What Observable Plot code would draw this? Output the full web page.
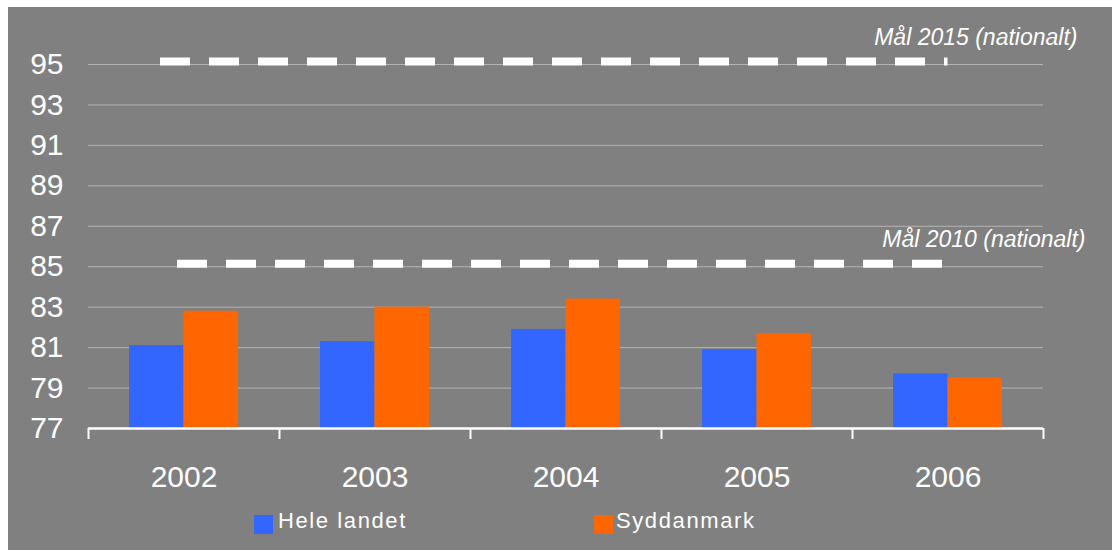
<!DOCTYPE html>
<html>
<head>
<meta charset="utf-8">
<script src="https://cdn.jsdelivr.net/npm/d3@7"></script>
<script src="https://cdn.jsdelivr.net/npm/@observablehq/plot@0.6"></script>
<style>
  html, body { margin: 0; padding: 0; background: #ffffff; }
  #panel { position: absolute; left: 8px; top: 7px; width: 1104px; height: 543px; background: #808080; overflow: hidden; font-family: "Liberation Sans", Arial, sans-serif; }
  #chart svg { display: block; }
  .lg-sw { position: absolute; width: 19px; height: 19px; top: 508px; }
  .lg-tx { position: absolute; top: 503px; font-size: 22px; line-height: 22px; color: #ffffff; letter-spacing: 1.6px; white-space: nowrap; }
</style>
</head>
<body>
<div id="panel">
  <div id="chart"></div>
  <div id="legend"></div>
</div>
<script>
const years = [2002, 2003, 2004, 2005, 2006];
const heleLandet = [81.1, 81.3, 81.9, 80.9, 79.7];
const syddanmark = [82.8, 83.0, 83.4, 81.7, 79.5];
const seriesNames = ["Hele landet", "Syddanmark"];
const seriesColors = ["#3366FF", "#FF6600"];
const yTicks = [77, 79, 81, 83, 85, 87, 89, 91, 93, 95];
const targetLabels = ["Mål 2015 (nationalt)", "Mål 2010 (nationalt)"];
const targetValues = [95.15, 85.15];

const barW = 0.285;
const rows = [];
years.forEach((yr, i) => {
  rows.push({year: yr, series: seriesNames[0], value: heleLandet[i], x1: yr - barW, x2: yr});
  rows.push({year: yr, series: seriesNames[1], value: syddanmark[i], x1: yr, x2: yr + barW});
});
const boundaries = years.map(y => y - 0.5).concat([years[years.length - 1] + 0.5]);
const yMin = yTicks[0], yMax = yTicks[yTicks.length - 1];

const chart = Plot.plot({
  width: 1104,
  height: 500,
  marginLeft: 80,
  marginRight: 69,
  marginTop: 57,
  marginBottom: 79,
  style: {background: "transparent", fontFamily: "'Liberation Sans', Arial, sans-serif", color: "white"},
  x: {type: "linear", domain: [boundaries[0], boundaries[boundaries.length - 1]]},
  y: {domain: [yMin, yMax]},
  color: {domain: seriesNames, range: seriesColors},
  marks: [
    Plot.ruleY(yTicks.slice(1), {stroke: "#b4b4b4", strokeWidth: 1}),
    Plot.rect(rows, {x1: "x1", x2: "x2", y1: yMin, y2: "value", fill: "series"}),
    Plot.ruleY([yMin], {stroke: "white", strokeWidth: 2.5}),
    Plot.axisX(boundaries, {tickSize: 11, tickFormat: () => "", label: null, stroke: "white", strokeWidth: 2}),
    Plot.axisX(years, {tickSize: 0, tickPadding: 37, fontSize: 30, fill: "white", label: null, tickFormat: d => String(d)}),
    Plot.axisY(yTicks, {tickSize: 0, tickPadding: 25, fontSize: 30, fill: "white", label: null, tickFormat: d => String(d)}),
    Plot.ruleY([targetValues[0]], {x1: 2001.877, x2: 2006.0, stroke: "white", strokeWidth: 8, strokeDasharray: "30,19"}),
    Plot.ruleY([targetValues[1]], {x1: 2001.966, x2: 2005.976, stroke: "white", strokeWidth: 8, strokeDasharray: "30,19"}),
    Plot.text([targetLabels[0]], {text: d => d, x: 2006.678, y: 96.31, textAnchor: "end", fontSize: 23, fontStyle: "italic", fill: "white"}),
    Plot.text([targetLabels[1]], {text: d => d, x: 2006.72, y: 86.32, textAnchor: "end", fontSize: 23, fontStyle: "italic", fill: "white"})
  ]
});
document.getElementById("chart").appendChild(chart);

const legend = document.getElementById("legend");
const legendPos = [{sw: 246, tx: 270}, {sw: 586, tx: 608}];
seriesNames.forEach((name, i) => {
  const sw = document.createElement("div");
  sw.className = "lg-sw";
  sw.style.left = legendPos[i].sw + "px";
  sw.style.background = seriesColors[i];
  legend.appendChild(sw);
  const tx = document.createElement("div");
  tx.className = "lg-tx";
  tx.style.left = legendPos[i].tx + "px";
  tx.textContent = name;
  legend.appendChild(tx);
});
</script>
</body>
</html>
